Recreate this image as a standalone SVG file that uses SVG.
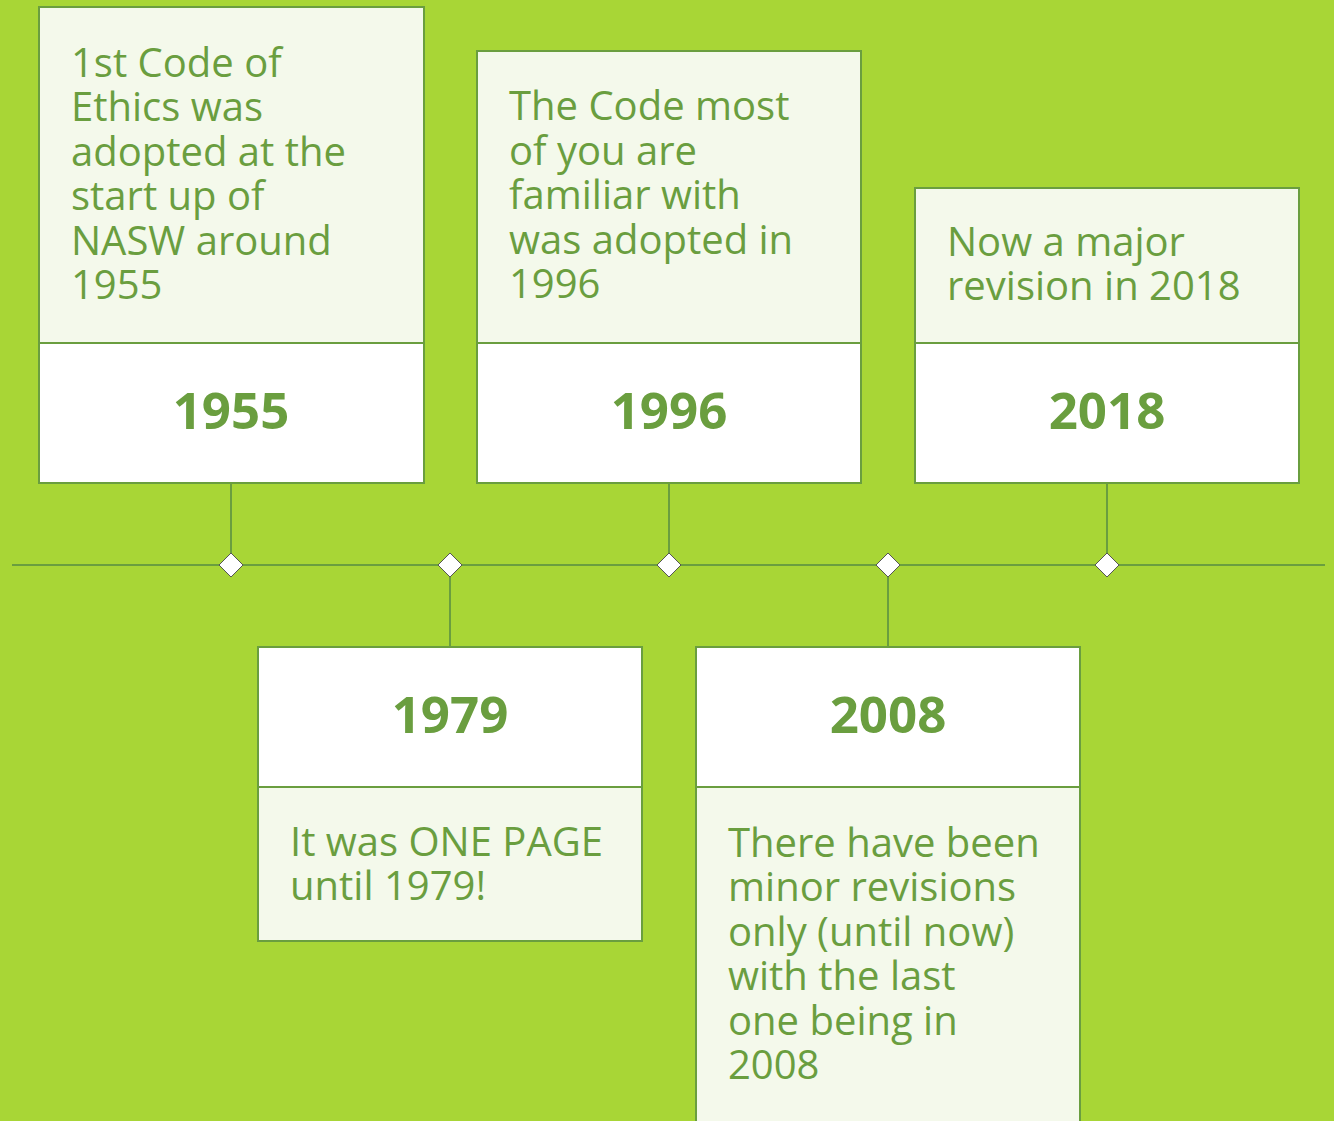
<svg xmlns="http://www.w3.org/2000/svg" width="1334" height="1121" viewBox="0 0 1334 1121">
<style>
.bg{fill:#a8d636}
.desc{fill:#f4f9eb;stroke:#6a9e3f;stroke-width:2}
.yr{fill:#ffffff;stroke:#6a9e3f;stroke-width:2}
.t{font-family:"Open Sans","Liberation Sans",sans-serif;font-size:40px;fill:#6a9e3f}
.y{font-family:"Open Sans","Liberation Sans",sans-serif;font-size:51px;font-weight:bold;fill:#6a9e3f;text-anchor:middle}
.ln{stroke:#6a9e3f;stroke-width:2;fill:none}
.dm{fill:#ffffff;stroke:#555;stroke-width:1}
</style>
<rect class="bg" x="0" y="0" width="1334" height="1121"/>
<g id="connectors">
<line class="ln" x1="12" y1="565" x2="1325" y2="565"/>
<line class="ln" x1="231" y1="483" x2="231" y2="565"/>
<line class="ln" x1="669" y1="483" x2="669" y2="565"/>
<line class="ln" x1="1107" y1="483" x2="1107" y2="565"/>
<line class="ln" x1="450" y1="565" x2="450" y2="647"/>
<line class="ln" x1="888" y1="565" x2="888" y2="647"/>
<path class="dm" d="M231 553 L243 565 L231 577 L219 565 Z"/>
<path class="dm" d="M450 553 L462 565 L450 577 L438 565 Z"/>
<path class="dm" d="M669 553 L681 565 L669 577 L657 565 Z"/>
<path class="dm" d="M888 553 L900 565 L888 577 L876 565 Z"/>
<path class="dm" d="M1107 553 L1119 565 L1107 577 L1095 565 Z"/>
</g>
<g id="node-1955">
<rect class="desc" x="39" y="7" width="385" height="336"/>
<rect class="yr" x="39" y="343" width="385" height="140"/>
<text class="t" x="71" y="77">1st Code of</text>
<text class="t" x="71" y="121">Ethics was</text>
<text class="t" x="71" y="166">adopted at the</text>
<text class="t" x="71" y="210">start up of</text>
<text class="t" x="71" y="255">NASW around</text>
<text class="t" x="71" y="299">1955</text>
<text class="y" x="231" y="429">1955</text>
</g>
<g id="node-1996">
<rect class="desc" x="477" y="51" width="384" height="292"/>
<rect class="yr" x="477" y="343" width="384" height="140"/>
<text class="t" x="509" y="120">The Code most</text>
<text class="t" x="509" y="165">of you are</text>
<text class="t" x="509" y="209">familiar with</text>
<text class="t" x="509" y="254">was adopted in</text>
<text class="t" x="509" y="298">1996</text>
<text class="y" x="669" y="429">1996</text>
</g>
<g id="node-2018">
<rect class="desc" x="915" y="188" width="384" height="155"/>
<rect class="yr" x="915" y="343" width="384" height="140"/>
<text class="t" x="947" y="256">Now a major</text>
<text class="t" x="947" y="300">revision in 2018</text>
<text class="y" x="1107" y="429">2018</text>
</g>
<g id="node-1979">
<rect class="yr" x="258" y="647" width="384" height="140"/>
<rect class="desc" x="258" y="787" width="384" height="154"/>
<text class="y" x="450" y="733">1979</text>
<text class="t" x="290" y="856">It was ONE PAGE</text>
<text class="t" x="290" y="900">until 1979!</text>
</g>
<g id="node-2008">
<rect class="yr" x="696" y="647" width="384" height="140"/>
<rect class="desc" x="696" y="787" width="384" height="345"/>
<text class="y" x="888" y="733">2008</text>
<text class="t" x="728" y="857">There have been</text>
<text class="t" x="728" y="901">minor revisions</text>
<text class="t" x="728" y="946">only (until now)</text>
<text class="t" x="728" y="990">with the last</text>
<text class="t" x="728" y="1035">one being in</text>
<text class="t" x="728" y="1079">2008</text>
</g>
</svg>
